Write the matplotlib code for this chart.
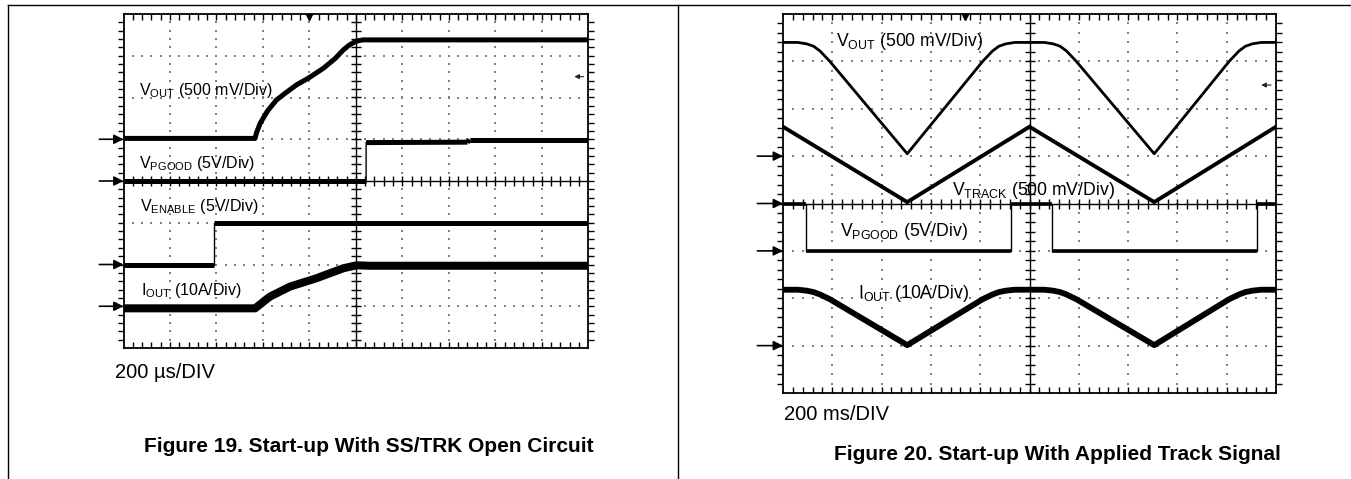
import numpy as np
import matplotlib
matplotlib.use("Agg")
import matplotlib.pyplot as plt
from matplotlib.lines import Line2D

plt.rcParams['font.family'] = ['Liberation Sans', 'DejaVu Sans']
plt.rcParams['mathtext.fontset'] = 'custom'
plt.rcParams['mathtext.rm'] = 'Liberation Sans'

W, H = 1351, 479

# ---------------- Figure 19 data (scope divisions: x 0..10, y 0..8) ----------------
vout19_x = [0, 2.83, 2.86, 2.94, 3.1, 3.29, 3.5, 3.72, 4.0, 4.30, 4.55, 4.73, 4.85, 4.94, 5.05, 5.16, 10]
vout19_y = [5.02, 5.02, 5.15, 5.38, 5.68, 5.94, 6.12, 6.30, 6.48, 6.70, 6.93, 7.14, 7.25, 7.31, 7.36, 7.38, 7.38]
pgood19_x = [0, 5.22, 5.22, 7.40, 7.45, 10]
pgood19_y = [4.0, 4.0, 4.92, 4.93, 4.98, 4.98]
enable19_x = [0, 1.95, 1.95, 10]
enable19_y = [2.0, 2.0, 3.0, 3.0]
iout19_x = [0, 2.83, 3.0, 3.15, 3.58, 4.15, 4.73, 5.01, 5.3, 10]
iout19_y = [0.95, 0.95, 1.10, 1.23, 1.47, 1.67, 1.91, 1.98, 1.97, 1.97]
arrows19_y = [5, 4, 2, 1]

# ---------------- Figure 20 data ----------------
vout20_x = [0, 0.3, 0.48, 0.62, 0.75, 0.95, 2.52, 4.05, 4.25, 4.38, 4.52, 4.7, 5.0,
            5.3, 5.48, 5.62, 5.75, 5.95, 7.53, 9.05, 9.25, 9.38, 9.52, 9.7, 10]
vout20_y = [7.40, 7.40, 7.37, 7.32, 7.22, 7.0, 5.05, 7.0, 7.22, 7.32, 7.37, 7.40, 7.40,
            7.40, 7.37, 7.32, 7.22, 7.0, 5.05, 7.0, 7.22, 7.32, 7.37, 7.40, 7.40]
vtrack20_x = [0, 2.52, 5.0, 7.53, 10]
vtrack20_y = [5.62, 4.03, 5.62, 4.03, 5.62]
pgood20_x = [0, 0.47, 0.47, 4.62, 4.62, 5.46, 5.46, 9.62, 9.62, 10]
pgood20_y = [4.0, 4.0, 3.0, 3.0, 4.0, 4.0, 3.0, 3.0, 4.0, 4.0]
iout20_x = [0, 0.3, 0.48, 0.62, 0.75, 0.95, 2.52, 4.05, 4.25, 4.38, 4.52, 4.7, 5.0,
            5.3, 5.48, 5.62, 5.75, 5.95, 7.53, 9.05, 9.25, 9.38, 9.52, 9.7, 10]
iout20_y = [2.18, 2.18, 2.16, 2.13, 2.08, 1.98, 1.01, 1.98, 2.08, 2.13, 2.16, 2.18, 2.18,
            2.18, 2.16, 2.13, 2.08, 1.98, 1.01, 1.98, 2.08, 2.13, 2.16, 2.18, 2.18]
arrows20_y = [5, 4, 3, 1]

fig = plt.figure(figsize=(W / 100, H / 100), dpi=100)
fig.patch.set_facecolor('white')


def pix_axes(left, top, right, bottom):
    return fig.add_axes([left / W, 1 - bottom / H, (right - left) / W, (bottom - top) / H])


def scope(ax, trig_x):
    ax.set_xlim(0, 10)
    ax.set_ylim(0, 8)
    ax.set_xticks([])
    ax.set_yticks([])
    for s in ax.spines.values():
        s.set_linewidth(1.3)
        s.set_color('black')
    fine = np.arange(0.2, 10, 0.2)
    fine_y = np.arange(0.2, 8, 0.2)
    for gx in range(1, 10):
        if gx == 5:
            continue
        ax.scatter(np.full(len(fine_y), gx), fine_y, s=0.8, c='#808080', marker='s', linewidths=0, zorder=1)
    for gy in range(1, 8):
        if gy == 4:
            continue
        ax.scatter(fine, np.full(len(fine), gy), s=0.8, c='#808080', marker='s', linewidths=0, zorder=1)
    ax.axvline(5, color='black', lw=1.0, zorder=1)
    ax.axhline(4, color='black', lw=1.0, zorder=1)
    ax.plot(np.full(len(fine_y), 5), fine_y, ls='none', marker='_', ms=7, mew=1.0, color='black', zorder=1)
    ax.plot(fine, np.full(len(fine), 4), ls='none', marker='|', ms=7, mew=1.0, color='black', zorder=1)
    ax.plot(fine, np.full(len(fine), 8), ls='none', marker=3, ms=4, mew=1.0, color='black', clip_on=False, zorder=1)
    ax.plot(fine, np.full(len(fine), 0), ls='none', marker=2, ms=4, mew=1.0, color='black', clip_on=False, zorder=1)
    ax.plot(np.full(len(fine_y), 0), fine_y, ls='none', marker=0, ms=4, mew=1.0, color='black', clip_on=False, zorder=1)
    ax.plot(np.full(len(fine_y), 10), fine_y, ls='none', marker=1, ms=4, mew=1.0, color='black', clip_on=False, zorder=1)
    ax.plot([trig_x], [7.93], marker='v', ms=5, color='black', ls='none', clip_on=False, zorder=5)
    ax.annotate('', xy=(9.7, 6.5), xytext=(9.9, 6.5),
                arrowprops=dict(arrowstyle='-|>', color='#222222', lw=0.8, mutation_scale=7,
                                shrinkA=0, shrinkB=0),
                annotation_clip=False)


def ground_arrows(ax, ys):
    for y in ys:
        ax.annotate('', xy=(0, y), xytext=(-0.52, y),
                    arrowprops=dict(arrowstyle='-|>', color='black', lw=1.2, mutation_scale=14,
                                    shrinkA=0, shrinkB=0),
                    annotation_clip=False)


def step_trace(ax, xs, ys, lw_h, lw_v):
    ax.plot(xs, ys, color='black', lw=lw_v, solid_capstyle='butt', zorder=3)
    for i in range(len(xs) - 1):
        if xs[i] != xs[i + 1]:
            ax.plot(xs[i:i + 2], ys[i:i + 2], color='black', lw=lw_h, solid_capstyle='butt', zorder=3)


# ---------------- Figure 19 ----------------
ax1 = pix_axes(123.5, 14, 588.3, 348)
scope(ax1, 4.0)
ax1.plot(vout19_x, vout19_y, color='black', lw=3.6, zorder=3, solid_joinstyle='round')
step_trace(ax1, pgood19_x, pgood19_y, 3.6, 1.0)
step_trace(ax1, enable19_x, enable19_y, 3.6, 1.0)
ax1.plot(iout19_x, iout19_y, color='black', lw=5.8, zorder=3, solid_joinstyle='round')
ground_arrows(ax1, arrows19_y)

# ---------------- Figure 20 ----------------
ax2 = pix_axes(783, 14, 1276, 393)
scope(ax2, 3.69)
ax2.plot(vout20_x, vout20_y, color='black', lw=2.0, zorder=3, solid_joinstyle='round')
ax2.plot(vtrack20_x, vtrack20_y, color='black', lw=2.8, zorder=3, solid_joinstyle='miter')
step_trace(ax2, pgood20_x, pgood20_y, 2.6, 1.0)
ax2.plot(iout20_x, iout20_y, color='black', lw=4.2, zorder=3, solid_joinstyle='round')
ground_arrows(ax2, arrows20_y)


def ptext(x, y, s, size, **kw):
    fig.text(x / W, 1 - y / H, s, fontsize=size, va='center', ha=kw.pop('ha', 'left'), **kw)


# labels fig 19
ptext(139, 90, r'$\mathregular{V_{OUT}}$ (500 mV/Div)', 11.5)
ptext(139, 164, r'$\mathregular{V_{PGOOD}}$ (5V/Div)', 11.5)
ptext(140, 207, r'$\mathregular{V_{ENABLE}}$ (5V/Div)', 11.5)
ptext(141, 290, r'$\mathregular{I_{OUT}}$ (10A/Div)', 11.5)
ptext(115, 372, '200 µs/DIV', 14.5)
ptext(144, 447, 'Figure 19. Start-up With SS/TRK Open Circuit', 15, fontweight='bold')

# labels fig 20
ptext(836, 42, r'$\mathregular{V_{OUT}}$ (500 mV/Div)', 12.7)
ptext(952, 191, r'$\mathregular{V_{TRACK}}$ (500 mV/Div)', 12.7)
ptext(840, 232, r'$\mathregular{V_{PGOOD}}$ (5V/Div)', 12.7)
ptext(858, 293, r'$\mathregular{I_{OUT}}$ (10A/Div)', 12.7)
ptext(784, 414, '200 ms/DIV', 14.5)
ptext(1281, 454, 'Figure 20. Start-up With Applied Track Signal', 15, fontweight='bold', ha='right')

# table rules
fig.add_artist(Line2D([8 / W, 1], [1 - 5 / H, 1 - 5 / H], color='black', lw=1.0))
fig.add_artist(Line2D([8 / W, 8 / W], [0, 1 - 5 / H], color='black', lw=1.0))
fig.add_artist(Line2D([678 / W, 678 / W], [0, 1 - 5 / H], color='black', lw=1.0))

fig.savefig('out.png', dpi=100, facecolor='white')
